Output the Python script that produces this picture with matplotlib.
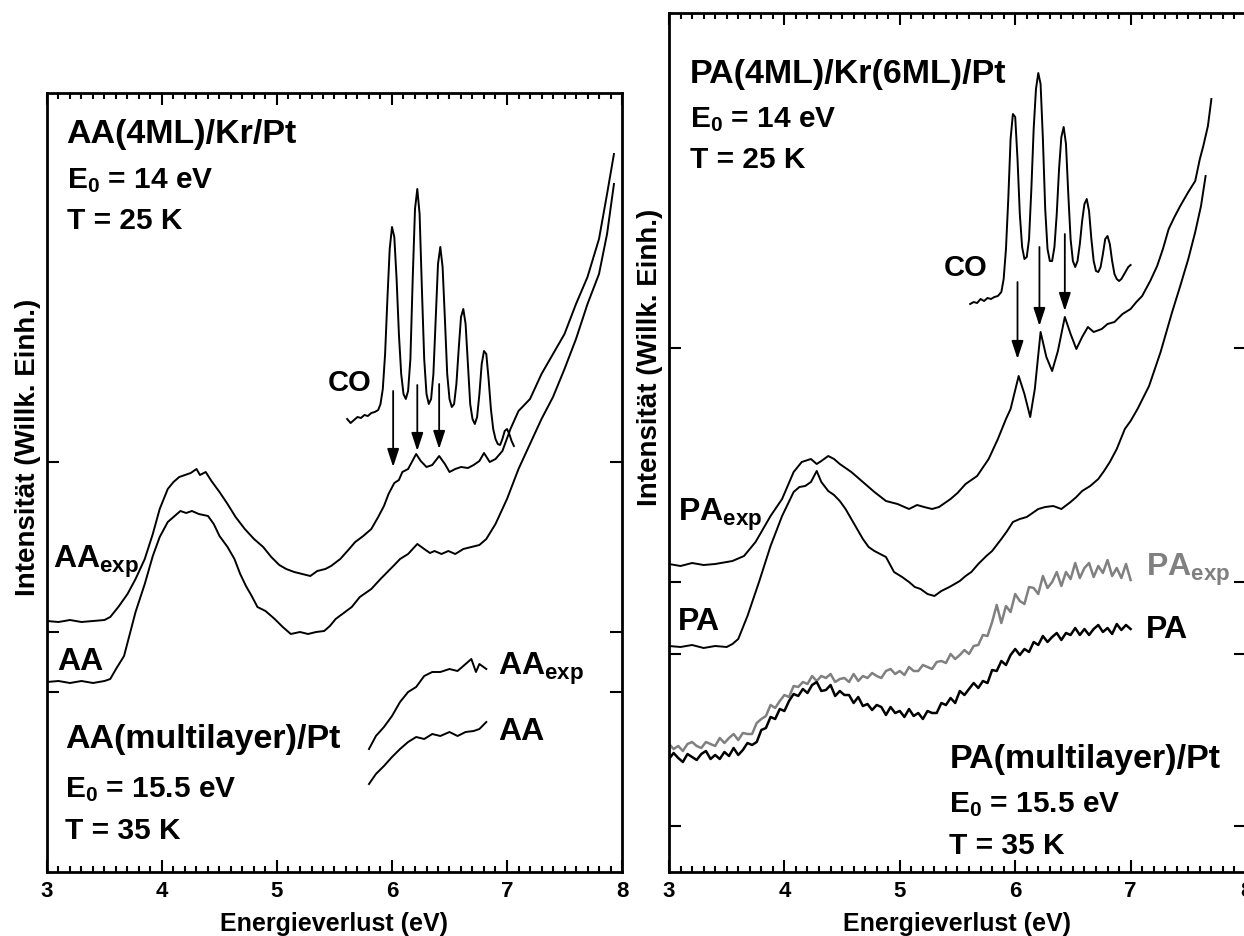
import matplotlib
matplotlib.use("Agg")
import matplotlib.pyplot as plt
from matplotlib.ticker import MultipleLocator, FixedLocator, NullFormatter

plt.rcParams["font.family"] = ["Liberation Sans", "DejaVu Sans"]
plt.rcParams["font.weight"] = "bold"
plt.rcParams["mathtext.default"] = "regular"
plt.rcParams["lines.solid_joinstyle"] = "round"

# --- AA spectra (left) --------------------------------------------------------
aa_exp_e = [3.0, 3.1, 3.2, 3.3, 3.4, 3.5, 3.55, 3.62, 3.7, 3.77, 3.85, 3.92, 3.98,
            4.05, 4.1, 4.15, 4.2, 4.25, 4.3, 4.33, 4.38, 4.43, 4.5, 4.57, 4.64,
            4.72, 4.8, 4.88, 4.95, 5.02, 5.08, 5.15, 5.22, 5.29, 5.35, 5.42, 5.47,
            5.55, 5.62, 5.68, 5.75, 5.82, 5.88, 5.93, 5.97, 6.02, 6.06, 6.09, 6.14,
            6.21, 6.25, 6.3, 6.35, 6.41, 6.46, 6.5, 6.55, 6.6, 6.66, 6.71, 6.76,
            6.8, 6.85, 6.9, 6.96, 7.03, 7.1, 7.2, 7.3, 7.4, 7.5, 7.6, 7.7, 7.8,
            7.87, 7.93]
aa_exp_i = [2.51, 2.50, 2.52, 2.50, 2.51, 2.52, 2.55, 2.65, 2.78, 2.93, 3.13, 3.38, 3.63,
            3.83, 3.90, 3.95, 3.97, 3.99, 4.03, 3.97, 4.00, 3.91, 3.80, 3.68, 3.55,
            3.43, 3.33, 3.25, 3.15, 3.07, 3.03, 3.00, 2.98, 2.96, 3.01, 3.03, 3.06,
            3.13, 3.22, 3.30, 3.36, 3.43, 3.55, 3.66, 3.78, 3.89, 3.92, 4.00, 4.03,
            4.18, 4.11, 4.05, 4.07, 4.16, 4.08, 4.00, 4.03, 4.05, 4.04, 4.07, 4.11,
            4.19, 4.10, 4.13, 4.21, 4.43, 4.61, 4.73, 4.98, 5.18, 5.38, 5.68, 5.95,
            6.33, 6.78, 7.18]

aa_e = [3.0, 3.1, 3.2, 3.3, 3.4, 3.5, 3.55, 3.6, 3.67, 3.72, 3.77, 3.85, 3.92, 3.98,
        4.05, 4.1, 4.16, 4.21, 4.26, 4.32, 4.4, 4.45, 4.5, 4.57, 4.63, 4.68, 4.73,
        4.78, 4.83, 4.9, 4.98, 5.05, 5.12, 5.2, 5.27, 5.34, 5.41, 5.46, 5.51, 5.58,
        5.65, 5.72, 5.82, 5.9, 5.96, 6.02, 6.07, 6.14, 6.22, 6.28, 6.33, 6.37, 6.43,
        6.49, 6.55, 6.62, 6.69, 6.76, 6.82, 6.9, 7.0, 7.1, 7.2, 7.3, 7.4, 7.5, 7.6,
        7.7, 7.8, 7.87, 7.93]
aa_i = [1.90, 1.91, 1.89, 1.91, 1.89, 1.91, 1.93, 2.03, 2.16, 2.38, 2.60, 2.88, 3.16, 3.35,
        3.50, 3.55, 3.61, 3.59, 3.61, 3.58, 3.56, 3.48, 3.36, 3.25, 3.13, 2.98, 2.86,
        2.76, 2.65, 2.61, 2.53, 2.45, 2.38, 2.40, 2.38, 2.40, 2.41, 2.46, 2.53, 2.59,
        2.65, 2.75, 2.83, 2.93, 3.00, 3.07, 3.13, 3.18, 3.28, 3.23, 3.19, 3.21, 3.18,
        3.21, 3.18, 3.23, 3.25, 3.27, 3.33, 3.48, 3.73, 4.03, 4.28, 4.53, 4.75, 5.03,
        5.33, 5.68, 5.98, 6.38, 6.88]

co_left_e = [5.61, 5.64, 5.67, 5.70, 5.73, 5.76, 5.79, 5.82, 5.85, 5.88, 5.90, 5.92,
             5.94, 5.96, 5.98, 6.00, 6.02, 6.04, 6.06, 6.08, 6.10, 6.12, 6.14, 6.16,
             6.18, 6.20, 6.22, 6.24, 6.26, 6.28, 6.30, 6.32, 6.34, 6.36, 6.38, 6.40,
             6.42, 6.44, 6.46, 6.48, 6.50, 6.52, 6.54, 6.56, 6.58, 6.60, 6.62, 6.64,
             6.66, 6.68, 6.70, 6.72, 6.74, 6.76, 6.78, 6.80, 6.82, 6.84, 6.86, 6.88,
             6.90, 6.92, 6.94, 6.96, 6.98, 7.00, 7.02, 7.04, 7.06]
co_left_i = [4.53, 4.49, 4.52, 4.55, 4.54, 4.57, 4.56, 4.59, 4.60, 4.62, 4.68, 4.83,
             5.18, 5.73, 6.23, 6.45, 6.35, 5.93, 5.38, 4.98, 4.78, 4.73, 4.81, 5.13,
             5.93, 6.63, 6.83, 6.58, 5.83, 5.13, 4.78, 4.68, 4.73, 4.98, 5.53, 6.08,
             6.25, 6.05, 5.53, 4.98, 4.73, 4.65, 4.68, 4.88, 5.23, 5.55, 5.63, 5.48,
             5.08, 4.68, 4.53, 4.48, 4.55, 4.78, 5.08, 5.21, 5.18, 4.93, 4.63, 4.43,
             4.33, 4.28, 4.27, 4.33, 4.41, 4.43, 4.38, 4.31, 4.26]

aa_ml_exp_e = [5.8, 5.86, 5.93, 6.0, 6.07, 6.14, 6.21, 6.28, 6.35, 6.42, 6.5, 6.57,
               6.64, 6.69, 6.73, 6.76, 6.82]
aa_ml_exp_i = [1.23, 1.36, 1.45, 1.56, 1.70, 1.80, 1.85, 1.96, 2.00, 2.00, 2.03, 2.01,
               2.08, 2.13, 2.00, 2.08, 2.03]
aa_ml_e = [5.8, 5.86, 5.93, 6.0, 6.07, 6.14, 6.21, 6.28, 6.35, 6.42, 6.5, 6.57,
           6.64, 6.71, 6.76, 6.82]
aa_ml_i = [0.88, 0.98, 1.06, 1.15, 1.23, 1.30, 1.35, 1.33, 1.38, 1.36, 1.40, 1.36,
           1.40, 1.41, 1.43, 1.50]

# arrows marking the CO vibrational peaks: energy, tail, head
aa_arrow_e = [6.01, 6.22, 6.41]
aa_arrow_tail = [4.81, 4.87, 4.88]
aa_arrow_head = [4.05, 4.21, 4.23]
aa_yticks = [4.10, 2.40, 1.80]

# --- PA spectra (right) -------------------------------------------------------
pa_exp_e = [3.0, 3.1, 3.2, 3.3, 3.4, 3.5, 3.55, 3.65, 3.75, 3.88, 3.98, 4.08, 4.15,
            4.23, 4.28, 4.32, 4.38, 4.43, 4.48, 4.58, 4.68, 4.78, 4.88, 4.98, 5.08,
            5.15, 5.21, 5.28, 5.34, 5.44, 5.5, 5.57, 5.67, 5.77, 5.85, 5.92, 5.96,
            6.03, 6.08, 6.13, 6.17, 6.22, 6.27, 6.32, 6.37, 6.43, 6.48, 6.53, 6.58,
            6.63, 6.68, 6.75, 6.8, 6.86, 6.93, 7.0, 7.05, 7.1, 7.17, 7.23, 7.28,
            7.33, 7.38, 7.43, 7.5, 7.56, 7.6, 7.63, 7.67, 7.7]
pa_exp_i = [3.08, 3.06, 3.09, 3.07, 3.08, 3.10, 3.11, 3.16, 3.30, 3.56, 3.73, 4.00, 4.10,
            4.13, 4.08, 4.11, 4.16, 4.13, 4.08, 4.00, 3.90, 3.80, 3.71, 3.68, 3.63,
            3.67, 3.65, 3.63, 3.65, 3.73, 3.79, 3.88, 3.96, 4.13, 4.33, 4.53, 4.63,
            4.96, 4.78, 4.55, 4.83, 5.40, 5.15, 5.01, 5.21, 5.55, 5.38, 5.23, 5.35,
            5.45, 5.40, 5.43, 5.48, 5.50, 5.58, 5.63, 5.70, 5.76, 5.91, 6.06, 6.23,
            6.43, 6.55, 6.66, 6.80, 6.91, 7.13, 7.26, 7.46, 7.73]

pa_e = [3.0, 3.1, 3.2, 3.3, 3.4, 3.5, 3.55, 3.6, 3.68, 3.78, 3.88, 3.98, 4.08, 4.13,
        4.18, 4.23, 4.28, 4.32, 4.38, 4.43, 4.48, 4.53, 4.58, 4.63, 4.68, 4.73, 4.78,
        4.83, 4.88, 4.95, 5.02, 5.08, 5.13, 5.18, 5.24, 5.3, 5.36, 5.43, 5.52, 5.57,
        5.62, 5.68, 5.75, 5.8, 5.88, 5.93, 5.98, 6.04, 6.1, 6.15, 6.2, 6.26, 6.33,
        6.4, 6.48, 6.53, 6.58, 6.65, 6.72, 6.77, 6.82, 6.88, 6.95, 7.0, 7.06, 7.16,
        7.26, 7.36, 7.43, 7.5, 7.56, 7.61, 7.65]
pa_i = [2.26, 2.25, 2.27, 2.24, 2.26, 2.25, 2.28, 2.33, 2.56, 2.90, 3.26, 3.56, 3.80, 3.85,
        3.86, 3.90, 4.01, 3.90, 3.81, 3.77, 3.71, 3.63, 3.53, 3.43, 3.33, 3.25, 3.21,
        3.18, 3.15, 3.00, 2.95, 2.90, 2.85, 2.83, 2.78, 2.76, 2.81, 2.85, 2.91, 2.96,
        3.00, 3.08, 3.16, 3.21, 3.33, 3.41, 3.50, 3.53, 3.55, 3.59, 3.63, 3.65, 3.66,
        3.63, 3.70, 3.75, 3.81, 3.86, 3.93, 4.01, 4.10, 4.23, 4.43, 4.51, 4.63, 4.86,
        5.20, 5.60, 5.86, 6.13, 6.40, 6.66, 6.96]

co_right_e = [5.61, 5.64, 5.67, 5.70, 5.73, 5.76, 5.79, 5.82, 5.85, 5.88, 5.90, 5.92,
              5.94, 5.96, 5.98, 6.00, 6.02, 6.04, 6.06, 6.08, 6.10, 6.12, 6.14, 6.16,
              6.18, 6.20, 6.22, 6.24, 6.26, 6.28, 6.30, 6.32, 6.34, 6.36, 6.38, 6.40,
              6.42, 6.44, 6.46, 6.48, 6.50, 6.52, 6.54, 6.56, 6.58, 6.60, 6.62, 6.64,
              6.66, 6.68, 6.70, 6.72, 6.74, 6.76, 6.78, 6.80, 6.82, 6.84, 6.86, 6.88,
              6.90, 6.92, 6.94, 6.96, 6.98, 7.00]
co_right_i = [5.68, 5.70, 5.69, 5.73, 5.71, 5.74, 5.73, 5.75, 5.76, 5.80, 5.93, 6.23,
              6.73, 7.33, 7.58, 7.55, 7.13, 6.58, 6.25, 6.13, 6.15, 6.33, 6.83, 7.43,
              7.83, 7.99, 7.88, 7.33, 6.63, 6.23, 6.11, 6.11, 6.25, 6.58, 7.03, 7.35,
              7.45, 7.28, 6.78, 6.33, 6.11, 6.05, 6.11, 6.28, 6.51, 6.68, 6.73, 6.61,
              6.33, 6.11, 6.01, 6.00, 6.05, 6.18, 6.33, 6.36, 6.28, 6.11, 5.98, 5.93,
              5.91, 5.93, 5.97, 6.01, 6.05, 6.07]

# multilayer PA spectra, sampled every 0.04 eV from 3.00 to 7.00 eV
pa_ml_e = [3.00, 3.04, 3.08, 3.12, 3.16, 3.20, 3.24, 3.28, 3.32, 3.36,
           3.40, 3.44, 3.48, 3.52, 3.56, 3.60, 3.64, 3.68, 3.72, 3.76,
           3.80, 3.84, 3.88, 3.92, 3.96, 4.00, 4.04, 4.08, 4.12, 4.16,
           4.20, 4.24, 4.28, 4.32, 4.36, 4.40, 4.44, 4.48, 4.52, 4.56,
           4.60, 4.64, 4.68, 4.72, 4.76, 4.80, 4.84, 4.88, 4.92, 4.96,
           5.00, 5.04, 5.08, 5.12, 5.16, 5.20, 5.24, 5.28, 5.32, 5.36,
           5.40, 5.44, 5.48, 5.52, 5.56, 5.60, 5.64, 5.68, 5.72, 5.76,
           5.80, 5.84, 5.88, 5.92, 5.96, 6.00, 6.04, 6.08, 6.12, 6.16,
           6.20, 6.24, 6.28, 6.32, 6.36, 6.40, 6.44, 6.48, 6.52, 6.56,
           6.60, 6.64, 6.68, 6.72, 6.76, 6.80, 6.84, 6.88, 6.92, 6.96,
           7.00]
pa_ml_exp_i = [1.28, 1.23, 1.26, 1.21, 1.28, 1.30, 1.26, 1.24, 1.30, 1.28,
               1.26, 1.34, 1.29, 1.34, 1.38, 1.32, 1.39, 1.38, 1.38, 1.49,
               1.53, 1.56, 1.67, 1.64, 1.71, 1.77, 1.75, 1.86, 1.85, 1.90,
               1.88, 1.96, 1.91, 1.96, 1.94, 1.98, 1.90, 1.93, 1.94, 1.90,
               1.98, 1.91, 1.96, 1.94, 1.99, 1.96, 1.94, 2.01, 2.03, 1.98,
               2.01, 1.97, 2.05, 2.01, 2.01, 2.07, 2.05, 2.03, 2.10, 2.11,
               2.09, 2.18, 2.13, 2.17, 2.22, 2.18, 2.26, 2.27, 2.37, 2.36,
               2.50, 2.67, 2.49, 2.66, 2.60, 2.78, 2.71, 2.68, 2.85, 2.84,
               2.78, 2.96, 2.84, 2.90, 3.00, 2.86, 3.00, 2.93, 3.09, 2.94,
               3.04, 3.09, 2.95, 3.06, 2.99, 3.12, 2.96, 3.04, 2.94, 3.08,
               2.92]
pa_ml_i = [1.13, 1.19, 1.14, 1.10, 1.18, 1.15, 1.12, 1.18, 1.21, 1.13,
           1.17, 1.13, 1.20, 1.16, 1.24, 1.17, 1.22, 1.29, 1.27, 1.30,
           1.42, 1.44, 1.55, 1.53, 1.63, 1.61, 1.71, 1.78, 1.76, 1.83,
           1.79, 1.87, 1.90, 1.81, 1.82, 1.87, 1.76, 1.81, 1.77, 1.77,
           1.69, 1.75, 1.66, 1.68, 1.62, 1.67, 1.65, 1.57, 1.65, 1.59,
           1.61, 1.55, 1.63, 1.56, 1.59, 1.53, 1.61, 1.59, 1.59, 1.69,
           1.67, 1.74, 1.69, 1.81, 1.77, 1.83, 1.89, 1.84, 1.91, 1.89,
           2.02, 2.01, 2.11, 2.07, 2.17, 2.23, 2.17, 2.23, 2.20, 2.30,
           2.27, 2.36, 2.30, 2.35, 2.39, 2.32, 2.39, 2.37, 2.44, 2.37,
           2.43, 2.37, 2.43, 2.47, 2.40, 2.44, 2.38, 2.48, 2.42, 2.47,
           2.43]

pa_arrow_e = [6.02, 6.21, 6.43]
pa_arrow_tail = [5.90, 6.25, 6.38]
pa_arrow_head = [5.13, 5.46, 5.61]
pa_yticks = [5.24, 2.90, 2.18, 0.46]

GREY = "#808080"
W, H = 1244, 937


def frame(ax, ymax, yticks):
    ax.set_xlim(3, 8)
    ax.set_ylim(0, ymax)
    ax.xaxis.set_major_locator(MultipleLocator(1))
    ax.xaxis.set_minor_locator(MultipleLocator(0.1))
    ax.yaxis.set_major_locator(FixedLocator(yticks))
    ax.yaxis.set_major_formatter(NullFormatter())
    ax.tick_params(which="both", direction="in", top=True, right=True, width=1.5)
    ax.tick_params(which="major", length=8.5, labelsize=16, pad=6)
    ax.tick_params(which="minor", length=4)
    for lab in ax.get_xticklabels():
        lab.set_fontweight("bold")
    for sp in ax.spines.values():
        sp.set_linewidth(2)
    ax.set_xlabel("Energieverlust (eV)", fontsize=18, fontweight="bold", labelpad=7)


def arrows(ax, xs, tails, heads):
    for x, t, h in zip(xs, tails, heads):
        ax.annotate("", xy=(x, h), xytext=(x, t),
                    arrowprops=dict(arrowstyle="-|>,head_length=0.55,head_width=0.18",
                                    mutation_scale=20, lw=1.3, color="black",
                                    shrinkA=0, shrinkB=0))


fig = plt.figure(figsize=(W / 100, H / 100), dpi=100)

# left panel: AA
ax1 = fig.add_axes([47 / W, 64 / H, 575 / W, 779 / H])
frame(ax1, 7.79, aa_yticks)
ax1.plot(aa_exp_e, aa_exp_i, color="black", lw=1.4)
ax1.plot(aa_e, aa_i, color="black", lw=1.4)
ax1.plot(co_left_e, co_left_i, color="black", lw=1.4)
ax1.plot(aa_ml_exp_e, aa_ml_exp_i, color="black", lw=1.4)
ax1.plot(aa_ml_e, aa_ml_i, color="black", lw=1.4)
arrows(ax1, aa_arrow_e, aa_arrow_tail, aa_arrow_head)

ax1.text(3.17, 7.38, "AA(4ML)/Kr/Pt", fontsize=24.5, va="center")
ax1.text(3.17, 6.92, "E$_0$ = 14 eV", fontsize=21.5, va="center")
ax1.text(3.17, 6.52, "T = 25 K", fontsize=21.5, va="center")
ax1.text(5.63, 4.90, "CO", fontsize=21, va="center", ha="center")
ax1.text(3.05, 3.11, "AA$_{exp}$", fontsize=23, va="center")
ax1.text(3.09, 2.11, "AA", fontsize=23, va="center")
ax1.text(6.92, 2.04, "AA$_{exp}$", fontsize=23, va="center")
ax1.text(6.92, 1.41, "AA", fontsize=23, va="center")
ax1.text(3.16, 1.33, "AA(multilayer)/Pt", fontsize=24.5, va="center")
ax1.text(3.16, 0.83, "E$_0$ = 15.5 eV", fontsize=21.5, va="center")
ax1.text(3.16, 0.42, "T = 35 K", fontsize=21.5, va="center")

# right panel: PA
ax2 = fig.add_axes([669 / W, 64 / H, 577 / W, 859 / H])
frame(ax2, 8.59, pa_yticks)
ax2.plot(pa_exp_e, pa_exp_i, color="black", lw=1.4)
ax2.plot(pa_e, pa_i, color="black", lw=1.4)
ax2.plot(co_right_e, co_right_i, color="black", lw=1.4)
ax2.plot(pa_ml_e, pa_ml_exp_i, color=GREY, lw=1.8)
ax2.plot(pa_ml_e, pa_ml_i, color="black", lw=1.8)
arrows(ax2, pa_arrow_e, pa_arrow_tail, pa_arrow_head)

ax2.text(3.18, 7.99, "PA(4ML)/Kr(6ML)/Pt", fontsize=24.5, va="center")
ax2.text(3.18, 7.53, "E$_0$ = 14 eV", fontsize=21.5, va="center")
ax2.text(3.18, 7.13, "T = 25 K", fontsize=21.5, va="center")
ax2.text(5.57, 6.05, "CO", fontsize=21, va="center", ha="center")
ax2.text(3.08, 3.58, "PA$_{exp}$", fontsize=23, va="center")
ax2.text(3.08, 2.51, "PA", fontsize=23, va="center")
ax2.text(7.13, 3.03, "PA$_{exp}$", fontsize=23, va="center", color=GREY)
ax2.text(7.13, 2.43, "PA", fontsize=23, va="center")
ax2.text(5.43, 1.13, "PA(multilayer)/Pt", fontsize=24.5, va="center")
ax2.text(5.43, 0.68, "E$_0$ = 15.5 eV", fontsize=21.5, va="center")
ax2.text(5.43, 0.27, "T = 35 K", fontsize=21.5, va="center")

for xpix, ypix in [(28, 447), (650, 357)]:
    fig.text(xpix / W, 1 - ypix / H, "Intensität (Willk. Einh.)", rotation=90,
             fontsize=20, ha="center", va="center")

fig.savefig("out.png", dpi=100)
